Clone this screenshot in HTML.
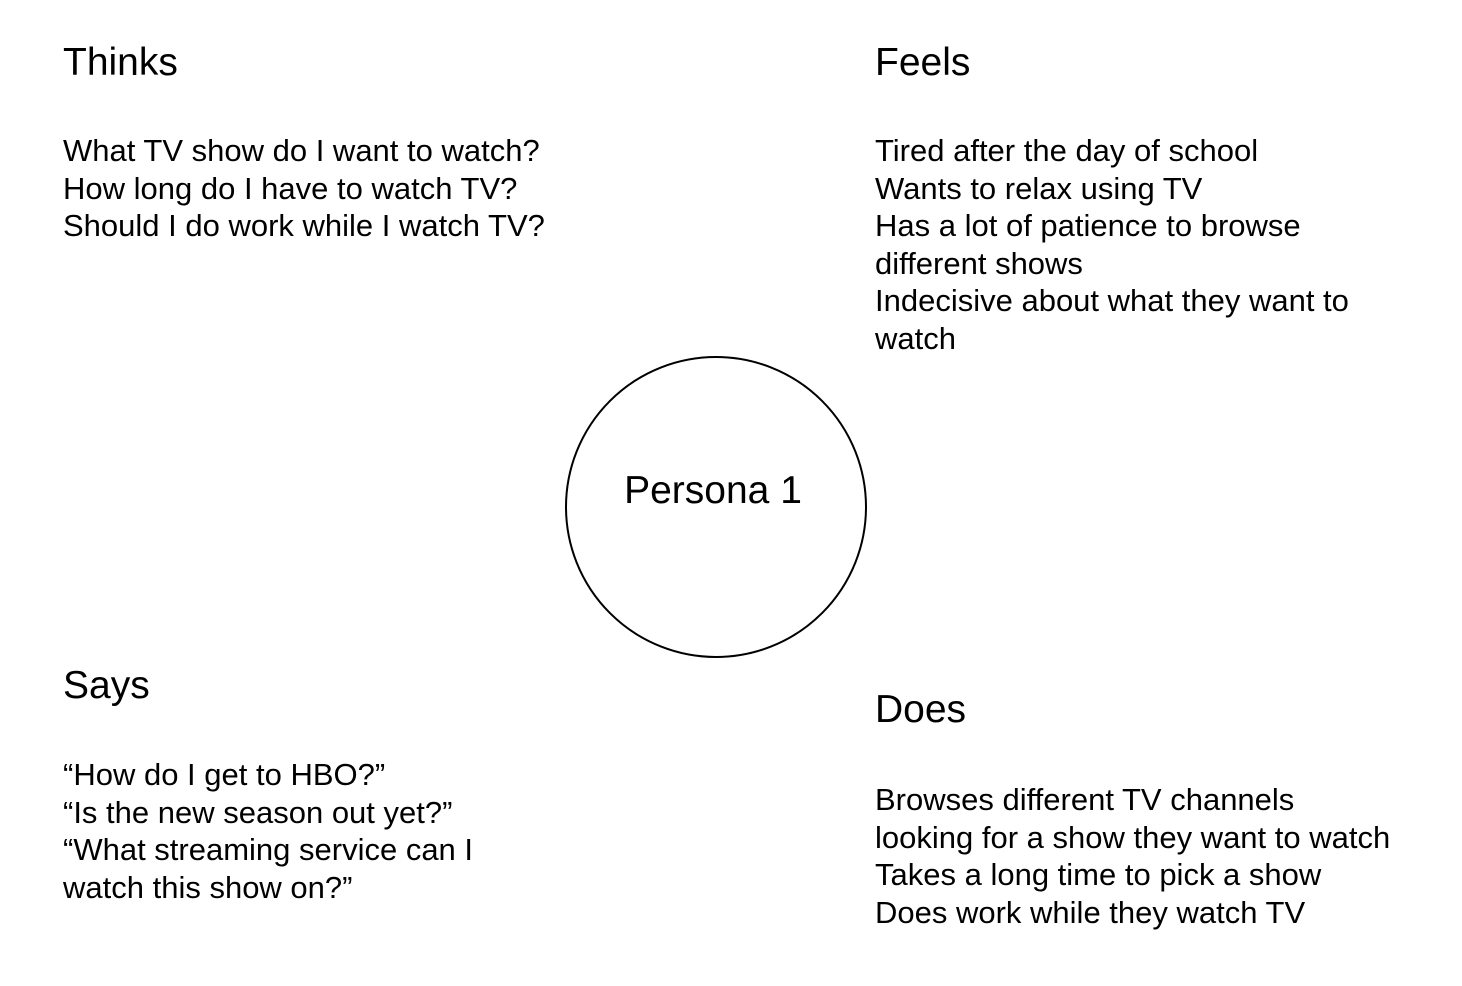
<!DOCTYPE html>
<html><head><meta charset="utf-8"><style>
html,body{margin:0;padding:0;background:#fff;}
body{width:1462px;height:986px;position:relative;overflow:hidden;font-family:"Liberation Sans",Arial,sans-serif;color:#000;}
.h{position:absolute;font-size:39px;line-height:45px;white-space:nowrap;}
.b{position:absolute;font-size:31px;line-height:37.5px;white-space:nowrap;}
.c{position:absolute;left:565px;top:356px;width:298px;height:298px;border:2px solid #000;border-radius:50%;}
</style></head><body>
<div class="h" style="left:63px;top:40px">Thinks</div>
<div class="b" style="left:63px;top:132px">What TV show do I want to watch?<br>How long do I have to watch TV?<br>Should I do work while I watch TV?</div>
<div class="h" style="left:875px;top:40px">Feels</div>
<div class="b" style="left:875px;top:132px">Tired after the day of school<br>Wants to relax using TV<br>Has a lot of patience to browse<br>different shows<br>Indecisive about what they want to<br>watch</div>
<div class="c"></div>
<div class="h" style="left:563px;width:300px;text-align:center;top:468px">Persona 1</div>
<div class="h" style="left:63px;top:663px">Says</div>
<div class="b" style="left:63px;top:756px">“How do I get to HBO?”<br>“Is the new season out yet?”<br>“What streaming service can I<br>watch this show on?”</div>
<div class="h" style="left:875px;top:687px">Does</div>
<div class="b" style="left:875px;top:781px">Browses different TV channels<br>looking for a show they want to watch<br>Takes a long time to pick a show<br>Does work while they watch TV</div>
</body></html>
